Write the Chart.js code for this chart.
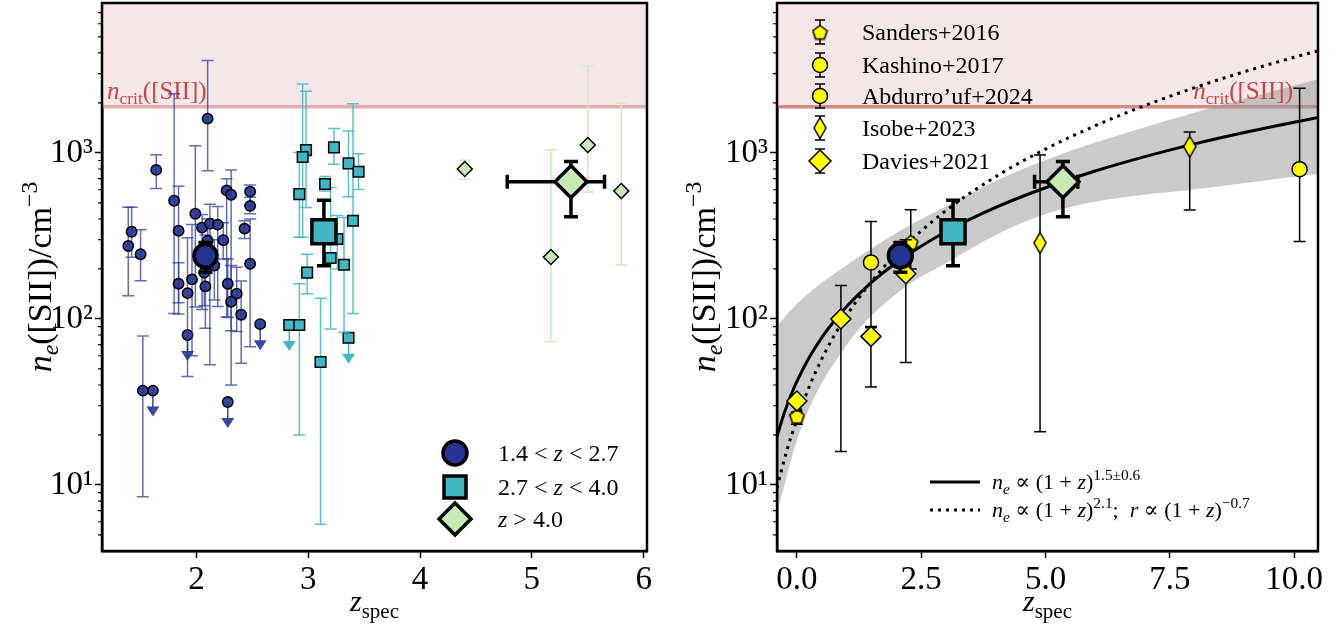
<!DOCTYPE html>
<html>
<head>
<meta charset="utf-8">
<script src="https://cdn.jsdelivr.net/npm/chart.js@4.4.1/dist/chart.umd.min.js"></script>
<style>
  body { margin: 0; background: #fff; width: 1337px; height: 632px; overflow: hidden; position: relative; }
  canvas { position: absolute; top: 0; }
  #leftChart { left: 0; }
  #rightChart { left: 668px; }
</style>
</head>
<body>
<canvas id="leftChart" width="668" height="632"></canvas>
<canvas id="rightChart" width="669" height="632"></canvas>
<script>
// ---------- data ----------
// individual galaxies, 1.4 < z < 2.7
const lowZ    = [1.64, 2.10, 1.80, 1.84, 1.42, 1.39, 1.50, 1.99, 2.05, 2.12, 2.19, 2.27, 2.31, 2.48, 2.48, 2.43, 2.24, 2.10, 2.48, 1.84, 1.92, 1.96, 2.08, 2.28, 2.36, 2.07, 2.16, 2.31, 2.40, 1.52];
const lowNe   = [790, 1610, 515, 340, 335, 275, 245, 430, 355, 375, 370, 595, 560, 585, 480, 350, 298, 296, 215, 163, 143, 173, 157, 163, 142, 190, 210, 127, 106, 37];
const lowNeLo = [610, 780, 108, 125, 235, 138, 170, 118, 114, 53, 119, 103, 85, 480, 430, 305, 230, 200, 68, 107, 45, 60, 88, 102, 84, 120, 130, 40, 54, 8.5];
const lowNeHi = [975, 3600, 2270, 630, 470, 470, 345, 1105, 425, 490, 475, 700, 790, 640, 540, 390, 380, 400, 400, 218, 308, 370, 320, 230, 205, 260, 300, 210, 169, 79];
const lowLimZ  = [2.57, 1.92, 1.61, 2.28];
const lowLimNe = [93, 80, 37, 31.6];

// individual galaxies, 2.7 < z < 4.0
const midZ    = [2.98, 2.95, 3.23, 3.36, 3.45, 2.92, 3.15, 3.40, 3.26, 3.20, 3.32, 2.99, 2.92, 3.11];
const midNe   = [1040, 945, 1080, 865, 770, 565, 650, 390, 303, 233, 212, 190, 92, 55];
const midNeLo = [469, 310, 855, 545, 603, 310, 590, 108, 200, 87, 83, 142, 20, 5.8];
const midNeHi = [2355, 2605, 1405, 1355, 990, 1005, 720, 1975, 420, 620, 408, 245, 163, 133];
const midLimZ  = [2.83, 3.36];
const midLimNe = [92, 77];

// individual galaxies, z > 4.0
const highZ    = [4.40, 5.50, 5.80, 5.17];
const highNe   = [800, 1117, 589, 236];
const highNeLo = [692, 581, 211, 73];
const highNeHi = [904, 3335, 1996, 1046];

// stacked bins
const binLabels = ['1.4 < z < 2.7', '2.7 < z < 4.0', 'z > 4.0'];
const binZ    = [2.08, 3.14, 5.35];
const binNe   = [240, 335, 670];
const binNeLo = [191, 209, 413];
const binNeHi = [289, 518, 887];
const binZLo  = [null, null, 4.78];
const binZHi  = [null, null, 5.65];

// literature
const sandersZ = [0.0, 2.29],  sandersNe = [26, 290],  sandersLo = [23.2, 200], sandersHi = [27.5, 455];
const kashinoZ = [1.49],       kashinoNe = [219],      kashinoLo = [90],        kashinoHi = [386];
const abdZ     = [10.11],      abdNe     = [798],      abdLo     = [293],       abdHi     = [2451];
const isobeZ   = [4.89, 7.90], isobeNe   = [287, 1091], isobeLo  = [20.9, 453], isobeHi   = [973, 1337];
const daviesZ  = [0.0, 0.885, 1.49, 2.19], daviesNe = [32, 100, 78.5, 187], daviesLo = [31, 15.9, 38.9, 54.6], daviesHi = [33, 159, 88.5, 300];

// fits (sampled from the drawn curves) and the shaded 1-sigma region
const fitZ      = [-0.4, -0.3, -0.2, -0.1, 0, 0.25, 0.5, 0.75, 1, 1.5, 2, 3, 4, 5, 6, 7, 8, 9, 10, 10.5];
const fitSolid  = [19.5, 24.6, 30.1, 35.9, 42, 58.7, 77.2, 97.2, 118.8, 166, 218, 336, 470, 617, 778, 950, 1134, 1328, 1532, 1638];
const fitDotted = [9.6, 12.6, 16.2, 20.2, 24.5, 39.2, 57.4, 79.4, 105, 168, 246, 450, 720, 1055, 1458, 1931, 2472, 3084, 3768, 4136];
const bandZ  = [-0.4, 0.07, 1.07, 2.08, 3.08, 4.09, 5.10, 6.10, 8.11, 10.48];
const bandHi = [91, 129, 218, 340, 490, 700, 930, 1180, 1790, 2780];
const bandLo = [6.8, 21.4, 74.3, 148, 224, 331, 437, 515, 608, 748];

const nCrit = 1900;
const yMajor = [10, 100, 1000];
const yMinor = [5, 6, 7, 8, 9, 20, 30, 40, 50, 60, 70, 80, 90, 200, 300, 400, 500, 600, 700, 800, 900, 2000, 3000, 4000, 5000, 6000, 7000];
const yTickText = {10: '10¹', 100: '10²', 1000: '10³'};
const leftXTicks = [2, 3, 4, 5, 6];
const rightXTicks = [0, 2.5, 5, 7.5, 10];
const litLabels = ['Sanders+2016', 'Kashino+2017', 'Abdurro’uf+2024', 'Isobe+2023', 'Davies+2021'];

// ---------- styling ----------
const FONT = '"Liberation Serif", "DejaVu Serif", serif';
const BLUE = '#253494', CYAN = '#41b6c4', GREEN = '#c7e9b4', YELLOW = '#ffff00';

const pts = (xs, ys) => xs.map((x, i) => ({x: x, y: ys[i]}));

function shapeCanvas(kind, w, h, fill) {
  const c = document.createElement('canvas');
  c.width = w; c.height = h;
  const g = c.getContext('2d');
  g.fillStyle = fill; g.strokeStyle = '#000'; g.lineWidth = 1.5;
  g.beginPath();
  if (kind === 'pentagon') {
    const r = w / 2 - 1;
    for (let k = 0; k < 5; k++) {
      const a = -Math.PI / 2 + k * 2 * Math.PI / 5;
      g.lineTo(w / 2 + r * Math.cos(a), h / 2 + 1 + r * Math.sin(a));
    }
  } else {
    g.moveTo(w / 2, 1); g.lineTo(w - 1, h / 2); g.lineTo(w / 2, h - 1); g.lineTo(1, h / 2);
  }
  g.closePath(); g.fill(); g.stroke();
  return c;
}
const pentagon = shapeCanvas('pentagon', 17, 17, YELLOW);
const thinDiamond = shapeCanvas('thin', 14, 23, YELLOW);

// rich text: parts = [[text, flags]] flags: i italic, b subscript, p superscript
function drawRich(ctx, parts, x, y, size, align) {
  let w = 0;
  const segs = parts.map(([t, f = '']) => {
    const small = f.includes('b') || f.includes('p');
    const s = small ? size * 0.7 : size;
    const font = (f.includes('i') ? 'italic ' : '') + s + 'px ' + FONT;
    ctx.font = font;
    const seg = {t: t, font: font, x: w, dy: f.includes('b') ? size * 0.22 : f.includes('p') ? -size * 0.4 : 0};
    w += ctx.measureText(t).width;
    return seg;
  });
  const x0 = align === 'center' ? x - w / 2 : align === 'right' ? x - w : x;
  ctx.textBaseline = 'alphabetic';
  ctx.textAlign = 'left';
  segs.forEach(s => { ctx.font = s.font; ctx.fillText(s.t, x0 + s.x, y + s.dy); });
}

function drawMarker(ctx, style, x, y, r, fill, lw) {
  if (style instanceof HTMLCanvasElement) { ctx.drawImage(style, x - style.width / 2, y - style.height / 2); return; }
  ctx.save();
  ctx.fillStyle = fill; ctx.strokeStyle = '#000'; ctx.lineWidth = lw;
  ctx.beginPath();
  if (style === 'circle') ctx.arc(x, y, r, 0, 2 * Math.PI);
  else if (style === 'rect') ctx.rect(x - r, y - r, 2 * r, 2 * r);
  else { ctx.moveTo(x - r, y); ctx.lineTo(x, y - r); ctx.lineTo(x + r, y); ctx.lineTo(x, y + r); ctx.closePath(); }
  ctx.fill(); ctx.stroke();
  ctx.restore();
}

// error bars + upper-limit arrows, drawn just under each dataset's markers
const errorBars = {
  id: 'errorBars',
  beforeDatasetDraw(chart, args) {
    const ds = chart.data.datasets[args.index];
    const e = ds.errorBars;
    if (!e) return;
    const ctx = chart.ctx, a = chart.chartArea, sx = chart.scales.x, sy = chart.scales.y;
    ctx.save();
    ctx.beginPath(); ctx.rect(a.left, a.top, a.right - a.left, a.bottom - a.top); ctx.clip();
    ctx.strokeStyle = e.color; ctx.fillStyle = e.color; ctx.lineWidth = e.width; ctx.lineCap = 'butt';
    ds.data.forEach((p, i) => {
      const px = sx.getPixelForValue(p.x), py = sy.getPixelForValue(p.y);
      ctx.beginPath();
      if (e.lo && e.lo[i] != null) {
        const y1 = sy.getPixelForValue(e.lo[i]), y2 = sy.getPixelForValue(e.hi[i]);
        ctx.moveTo(px, y1); ctx.lineTo(px, y2);
        ctx.moveTo(px - e.cap, y1); ctx.lineTo(px + e.cap, y1);
        ctx.moveTo(px - e.cap, y2); ctx.lineTo(px + e.cap, y2);
      }
      if (e.xlo && e.xlo[i] != null) {
        const x1 = sx.getPixelForValue(e.xlo[i]), x2 = sx.getPixelForValue(e.xhi[i]);
        ctx.moveTo(x1, py); ctx.lineTo(x2, py);
        ctx.moveTo(x1, py - e.cap); ctx.lineTo(x1, py + e.cap);
        ctx.moveTo(x2, py - e.cap); ctx.lineTo(x2, py + e.cap);
      }
      ctx.stroke();
      if (e.limit) {
        ctx.beginPath(); ctx.moveTo(px, py); ctx.lineTo(px, py + 17); ctx.stroke();
        ctx.beginPath(); ctx.moveTo(px - 6.5, py + 16); ctx.lineTo(px + 6.5, py + 16); ctx.lineTo(px, py + 26); ctx.closePath(); ctx.fill();
      }
    });
    ctx.restore();
  }
};

function drawCritText(chart, cfg) {
  const ctx = chart.ctx, a = chart.chartArea;
  const py = chart.scales.y.getPixelForValue(nCrit);
  ctx.save();
  ctx.fillStyle = '#c84646';
  const parts = [['n', 'i'], ['crit', 'b'], ['([SII])']];
  if (cfg.critAlign === 'left') drawRich(ctx, parts, a.left + 5, py - 8, 25, 'left');
  else drawRich(ctx, parts, a.right - 25, py - 8, 25, 'right');
  ctx.restore();
}

function decor(cfg) {
  return {
    id: 'decor',
    afterDatasetDraw(chart, args) {
      if (cfg.critUnder && chart.data.datasets[args.index].critLine) drawCritText(chart, cfg);
    },
    afterDatasetsDraw(chart) {
      if (!cfg.critUnder) drawCritText(chart, cfg);
    },
    afterDraw(chart) {
      const ctx = chart.ctx, a = chart.chartArea, sy = chart.scales.y;
      ctx.save();
      // minor ticks on the log axis
      ctx.strokeStyle = '#000'; ctx.lineWidth = 1.2;
      ctx.beginPath();
      yMinor.forEach(v => { const py = sy.getPixelForValue(v); ctx.moveTo(a.left - 4, py); ctx.lineTo(a.left, py); });
      ctx.stroke();
      // frame
      ctx.lineWidth = 2.5;
      ctx.strokeRect(a.left, a.top, a.right - a.left, a.bottom - a.top);
      // axis titles
      ctx.fillStyle = '#000';
      drawRich(ctx, [['z', 'i'], ['spec', 'b']], (a.left + a.right) / 2, 611, 30, 'center');
      ctx.translate(cfg.yTitleX, (a.top + a.bottom) / 2);
      ctx.rotate(-Math.PI / 2);
      drawRich(ctx, [['n', 'i'], ['e', 'ib'], ['([SII])/cm'], ['−3', 'p']], 0, 11, 34, 'center');
      ctx.restore();
      cfg.legend(ctx, a);
    }
  };
}

function yScale(width) {
  return {
    type: 'logarithmic', min: 4, max: 8000,
    afterBuildTicks: s => { s.ticks = yMajor.map(v => ({value: v})); },
    afterFit: s => { s.width = width; s.paddingTop = 0; s.paddingBottom = 0; },
    ticks: {callback: v => yTickText[v] || '', font: {family: FONT, size: 33}, color: '#000', padding: 2, autoSkip: false},
    grid: {display: true, drawOnChartArea: false, drawTicks: true, tickLength: 7, tickWidth: 1.5, tickColor: '#000'},
    border: {display: true, color: '#000', width: 2.5}
  };
}
function xScale(min, max, ticks, fmt) {
  return {
    type: 'linear', min: min, max: max,
    afterBuildTicks: s => { s.ticks = ticks.map(v => ({value: v})); },
    afterFit: s => { s.height = 81; s.paddingLeft = 0; s.paddingRight = 0; },
    ticks: {callback: fmt, font: {family: FONT, size: 33}, color: '#000', padding: 3, autoSkip: false, maxRotation: 0},
    grid: {display: true, drawOnChartArea: false, drawTicks: true, tickLength: 7, tickWidth: 1.5, tickColor: '#000'},
    border: {display: true, color: '#000', width: 2.5}
  };
}

function critDataset(xmin, xmax, lineColor) {
  return {
    type: 'line', critLine: true, order: 20, showLine: true,
    data: [{x: xmin, y: nCrit}, {x: xmax, y: nCrit}],
    borderColor: lineColor, borderWidth: 3.5, pointRadius: 0, fill: 'end', backgroundColor: '#f5e6e7'
  };
}

function scatterSet(xs, ys, style, radius, fill, bw, order, err) {
  return {
    data: pts(xs, ys), pointStyle: style, pointRadius: radius, pointHoverRadius: radius,
    backgroundColor: fill, borderColor: '#000', borderWidth: bw, order: order, errorBars: err
  };
}

const commonOpts = (padRight) => ({
  responsive: false, animation: false,
  layout: {autoPadding: false, padding: {left: 0, right: padRight, top: 3, bottom: 0}},
  plugins: {legend: {display: false}, tooltip: {enabled: false}},
  events: []
});

// ---------- left panel ----------
const leftLegend = (ctx) => {
  const rows = [
    {y: 453, style: 'circle', r: 12, fill: BLUE, parts: [['1.4 < '], ['z', 'i'], [' < 2.7']]},
    {y: 487, style: 'rect', r: 11, fill: CYAN, parts: [['2.7 < '], ['z', 'i'], [' < 4.0']]},
    {y: 519, style: 'diamond', r: 16, fill: GREEN, parts: [['z', 'i'], [' > 4.0']]}
  ];
  rows.forEach(r => {
    drawMarker(ctx, r.style, 455, r.y, r.r, r.fill, 3.5);
    ctx.fillStyle = '#000';
    drawRich(ctx, r.parts, 498, r.y + 8, 24, 'left');
  });
};

new Chart(document.getElementById('leftChart'), {
  type: 'scatter',
  data: {datasets: [
    critDataset(1.155, 6.03, '#e2acac'),
    scatterSet(lowZ, lowNe, 'circle', 5.2, 'rgba(37,52,148,0.92)', 1.5, 10,
      {lo: lowNeLo, hi: lowNeHi, color: 'rgba(45,60,155,0.75)', width: 1.5, cap: 6}),
    scatterSet(lowLimZ, lowLimNe, 'circle', 5.2, 'rgba(37,52,148,0.92)', 1.5, 10,
      {color: 'rgba(45,60,160,0.95)', width: 1.5, cap: 6, limit: true}),
    scatterSet(midZ, midNe, 'rect', 7.5, CYAN, 1.5, 9,
      {lo: midNeLo, hi: midNeHi, color: 'rgba(65,182,196,0.85)', width: 1.5, cap: 6}),
    scatterSet(midLimZ, midLimNe, 'rect', 7.5, CYAN, 1.5, 9,
      {color: CYAN, width: 1.5, cap: 6, limit: true}),
    scatterSet(highZ, highNe, 'rectRot', 7.5, GREEN, 1.5, 8,
      {lo: highNeLo, hi: highNeHi, color: '#cfeac0', width: 1.5, cap: 6}),
    scatterSet([binZ[0]], [binNe[0]], 'circle', 11.5, BLUE, 3.5, 2,
      {lo: [binNeLo[0]], hi: [binNeHi[0]], color: '#000', width: 3.5, cap: 7}),
    scatterSet([binZ[1]], [binNe[1]], 'rect', 17, CYAN, 3.5, 1,
      {lo: [binNeLo[1]], hi: [binNeHi[1]], color: '#000', width: 3.5, cap: 7}),
    scatterSet([binZ[2]], [binNe[2]], 'rectRot', 16, GREEN, 3.5, 0,
      {lo: [binNeLo[2]], hi: [binNeHi[2]], xlo: [binZLo[2]], xhi: [binZHi[2]], color: '#000', width: 3.5, cap: 7})
  ]},
  options: Object.assign(commonOpts(21), {
    scales: {x: xScale(1.155, 6.03, leftXTicks, v => String(v)), y: yScale(102)}
  }),
  plugins: [errorBars, decor({critUnder: true, critAlign: 'left', yTitleX: 40, legend: leftLegend})]
});

// ---------- right panel ----------
const litStyles = [pentagon, 'circle', 'circle', thinDiamond, 'diamond'];
const rightLegend = (ctx) => {
  const ys = [32, 65, 96, 128, 161];
  ys.forEach((y, i) => {
    ctx.save();
    ctx.strokeStyle = '#000'; ctx.lineWidth = 1.5;
    ctx.beginPath();
    ctx.moveTo(820, y - 12); ctx.lineTo(820, y + 12);
    ctx.moveTo(815, y - 12); ctx.lineTo(825, y - 12);
    ctx.moveTo(815, y + 12); ctx.lineTo(825, y + 12);
    ctx.stroke();
    ctx.restore();
    drawMarker(ctx, litStyles[i], 820, y, i === 4 ? 11 : 7.5, YELLOW, 1.5);
    ctx.fillStyle = '#000';
    drawRich(ctx, [[litLabels[i]]], 862, y + 8, 24, 'left');
  });
  ctx.save();
  ctx.strokeStyle = '#000'; ctx.lineWidth = 3;
  ctx.beginPath(); ctx.moveTo(930, 482); ctx.lineTo(980, 482); ctx.stroke();
  ctx.setLineDash([3, 5]);
  ctx.beginPath(); ctx.moveTo(930, 510); ctx.lineTo(980, 510); ctx.stroke();
  ctx.restore();
  ctx.fillStyle = '#000';
  drawRich(ctx, [['n', 'i'], ['e', 'ib'], [' ∝ (1 + '], ['z', 'i'], [')'], ['1.5±0.6', 'p']], 992, 489, 22, 'left');
  drawRich(ctx, [['n', 'i'], ['e', 'ib'], [' ∝ (1 + '], ['z', 'i'], [')'], ['2.1', 'p'], [';  '], ['r', 'i'], [' ∝ (1 + '], ['z', 'i'], [')'], ['−0.7', 'p']], 992, 517, 22, 'left');
};

const rightLegendShifted = (ctx) => { ctx.save(); ctx.translate(-668, 0); rightLegend(ctx); ctx.restore(); };

const litErr = (lo, hi) => ({lo: lo, hi: hi, color: '#000', width: 1.5, cap: 6});

new Chart(document.getElementById('rightChart'), {
  type: 'scatter',
  data: {datasets: [
    critDataset(-0.4, 10.48, '#d58a8a'),
    {type: 'line', showLine: true, order: 15, data: pts(bandZ, bandHi), borderWidth: 0, pointRadius: 0,
     fill: '+1', backgroundColor: 'rgba(150,150,150,0.5)', cubicInterpolationMode: 'monotone'},
    {type: 'line', showLine: true, order: 16, data: pts(bandZ, bandLo), borderWidth: 0, pointRadius: 0,
     fill: false, cubicInterpolationMode: 'monotone'},
    {type: 'line', showLine: true, order: 12, data: pts(fitZ, fitSolid), borderColor: '#000', borderWidth: 3,
     pointRadius: 0, fill: false, cubicInterpolationMode: 'monotone'},
    {type: 'line', showLine: true, order: 12, data: pts(fitZ, fitDotted), borderColor: '#000', borderWidth: 3,
     borderDash: [3, 5], pointRadius: 0, fill: false, cubicInterpolationMode: 'monotone'},
    scatterSet(sandersZ, sandersNe, pentagon, 8, YELLOW, 1.5, 6, litErr(sandersLo, sandersHi)),
    scatterSet(kashinoZ, kashinoNe, 'circle', 7.5, YELLOW, 1.5, 6, litErr(kashinoLo, kashinoHi)),
    scatterSet(abdZ, abdNe, 'circle', 7.5, YELLOW, 1.5, 6, litErr(abdLo, abdHi)),
    scatterSet(isobeZ, isobeNe, thinDiamond, 8, YELLOW, 1.5, 6, litErr(isobeLo, isobeHi)),
    scatterSet(daviesZ, daviesNe, 'rectRot', 10, YELLOW, 1.5, 5, litErr(daviesLo, daviesHi)),
    scatterSet([binZ[0]], [binNe[0]], 'circle', 12, BLUE, 3.5, 2,
      {lo: [binNeLo[0]], hi: [binNeHi[0]], color: '#000', width: 3.5, cap: 7}),
    scatterSet([binZ[1]], [binNe[1]], 'rect', 17, CYAN, 3.5, 1,
      {lo: [binNeLo[1]], hi: [binNeHi[1]], color: '#000', width: 3.5, cap: 7}),
    scatterSet([binZ[2]], [binNe[2]], 'rectRot', 16, GREEN, 3.5, 0,
      {lo: [binNeLo[2]], hi: [binNeHi[2]], xlo: [binZLo[2]], xhi: [binZHi[2]], color: '#000', width: 3.5, cap: 7})
  ]},
  options: Object.assign(commonOpts(19), {
    scales: {x: xScale(-0.4, 10.48, rightXTicks, v => v.toFixed(1)), y: yScale(109)}
  }),
  plugins: [errorBars, decor({critUnder: false, critAlign: 'right', yTitleX: 36, legend: rightLegendShifted})]
});
</script>
</body>
</html>
